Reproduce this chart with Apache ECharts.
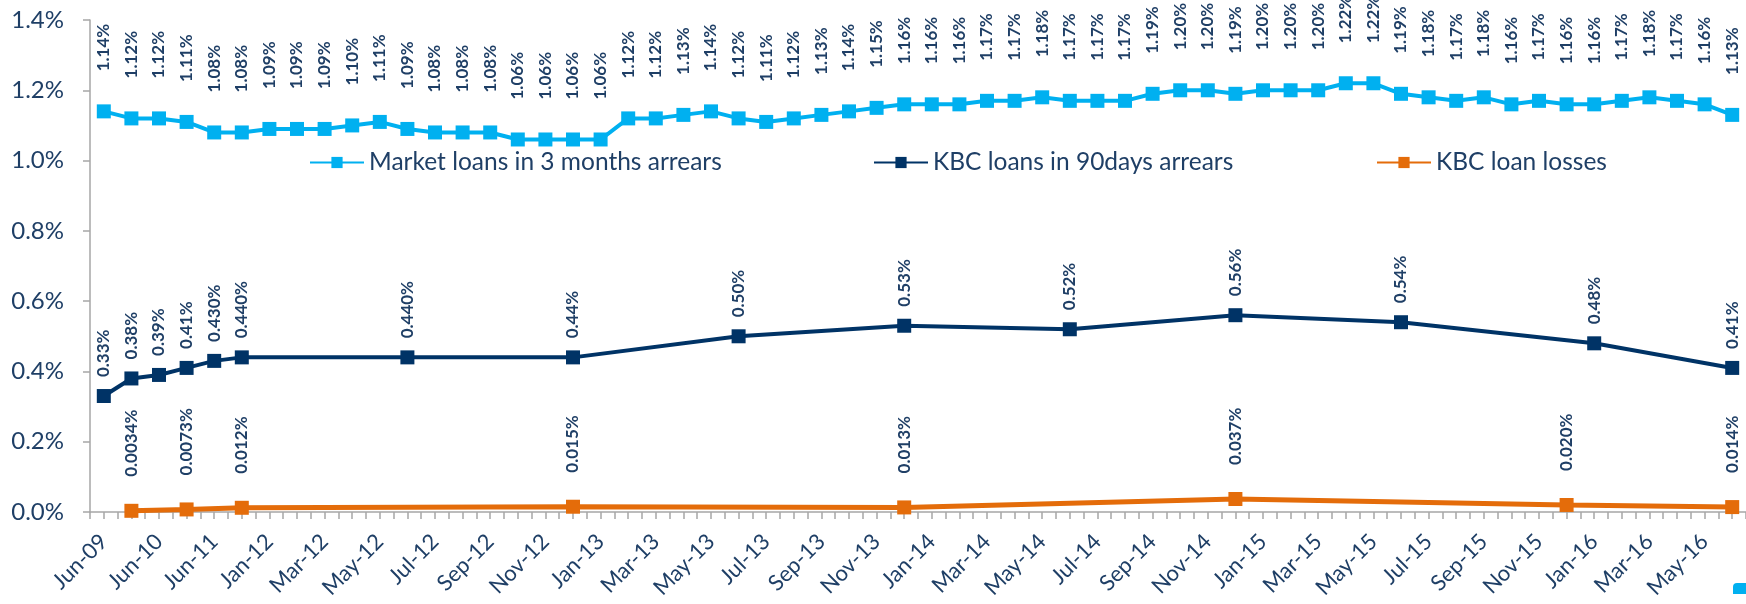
<!DOCTYPE html>
<html>
<head>
<meta charset="utf-8">
<script src="https://cdn.jsdelivr.net/npm/echarts@6/dist/echarts.min.js"></script>
<style>
html,body{margin:0;padding:0;background:#fff;}
#c{width:1746px;height:604px;}
</style>
</head>
<body>
<div id="c"></div>
<script>
// Categories (first six are half-yearly, then monthly)
var categories = [
  'Jun-09','Dec-09','Jun-10','Dec-10','Jun-11','Dec-11',
  'Jan-12','Feb-12','Mar-12','Apr-12','May-12','Jun-12','Jul-12','Aug-12','Sep-12','Oct-12','Nov-12','Dec-12',
  'Jan-13','Feb-13','Mar-13','Apr-13','May-13','Jun-13','Jul-13','Aug-13','Sep-13','Oct-13','Nov-13','Dec-13',
  'Jan-14','Feb-14','Mar-14','Apr-14','May-14','Jun-14','Jul-14','Aug-14','Sep-14','Oct-14','Nov-14','Dec-14',
  'Jan-15','Feb-15','Mar-15','Apr-15','May-15','Jun-15','Jul-15','Aug-15','Sep-15','Oct-15','Nov-15','Dec-15',
  'Jan-16','Feb-16','Mar-16','Apr-16','May-16','Jun-16'
];

var marketName = 'Market loans in 3 months arrears';
var marketValues = [
  1.14,1.12,1.12,1.11,1.08,1.08,
  1.09,1.09,1.09,1.10,1.11,1.09,1.08,1.08,1.08,1.06,1.06,1.06,
  1.06,1.12,1.12,1.13,1.14,1.12,1.11,1.12,1.13,1.14,1.15,1.16,
  1.16,1.16,1.17,1.17,1.18,1.17,1.17,1.17,1.19,1.20,1.20,1.19,
  1.20,1.20,1.20,1.22,1.22,1.19,1.18,1.17,1.18,1.16,1.17,1.16,
  1.16,1.17,1.18,1.17,1.16,1.13
];

var kbcName = 'KBC loans in 90days arrears';
var kbcPeriods = ['Jun-09','Dec-09','Jun-10','Dec-10','Jun-11','Dec-11','Jun-12','Dec-12','Jun-13','Dec-13','Jun-14','Dec-14','Jun-15','Jan-16','Jun-16'];
var kbcValues  = [0.33,0.38,0.39,0.41,0.430,0.440,0.440,0.44,0.50,0.53,0.52,0.56,0.54,0.48,0.41];
var kbcDigits  = [2,2,2,2,3,3,3,2,2,2,2,2,2,2,2];

var lossName = 'KBC loan losses';
var lossPeriods = ['Dec-09','Dec-10','Dec-11','Dec-12','Dec-13','Dec-14','Dec-15','Jun-16'];
var lossValues  = [0.0034,0.0073,0.012,0.015,0.013,0.037,0.020,0.014];
var lossDigits  = [4,4,3,3,3,3,3,3];

var yTicks = {min:0, max:1.4, interval:0.2};

var TXT = '#1F3F66';
var C_MARKET = '#00B0F0', C_KBC = '#003366', C_LOSS = '#E46C0A';
var FONT = 'Lato';

function pairs(periods, values){ return periods.map(function(p,i){ return [p, values[i]]; }); }

var chart = echarts.init(document.getElementById('c'), null, {renderer:'canvas'});

function dataLabel(dist, fmt){
  return {
    show:true, position:'top', distance:dist, rotate:90,
    align:'left', verticalAlign:'middle',
    color:TXT, fontFamily:FONT, fontWeight:'bold', fontSize:17,
    formatter: fmt
  };
}

function legendAt(name, left){
  return {
    data:[name], left:left, top:145, orient:'horizontal',
    itemWidth:54, itemHeight:14, itemGap:6,
    textStyle:{color:TXT, fontFamily:FONT, fontSize:24.5}
  };
}

chart.setOption({
  animation:false,
  backgroundColor:'#ffffff',
  textStyle:{fontFamily:FONT},
  grid:{left:90, top:20, bottom:92, right:-7, containLabel:false},
  legend:[ legendAt(marketName, 304), legendAt(kbcName, 868), legendAt(lossName, 1371) ],
  xAxis:[{
    type:'category', data:categories, boundaryGap:true,
    axisLine:{show:true, lineStyle:{color:'#A6A6A6', width:1.5}},
    axisTick:{show:true, interval:0, length:7, lineStyle:{color:'#A6A6A6', width:1.5}},
    axisLabel:{show:true, interval:1, rotate:45, margin:26, color:TXT, fontFamily:FONT, fontSize:22}
  },{
    type:'category', data:categories, boundaryGap:true, position:'bottom',
    axisLine:{show:false},
    axisTick:{show:true, alignWithLabel:true, interval:0, length:7, lineStyle:{color:'#A6A6A6', width:1.5}},
    axisLabel:{show:false}
  }],
  yAxis:{
    type:'value', min:yTicks.min, max:yTicks.max, interval:yTicks.interval,
    splitLine:{show:false},
    axisLine:{show:true, lineStyle:{color:'#A6A6A6', width:1.5}},
    axisTick:{show:true, length:7, lineStyle:{color:'#A6A6A6', width:1.5}},
    axisLabel:{margin:26, color:TXT, fontFamily:FONT, fontSize:24,
      formatter:function(v){ return v.toFixed(1)+'%'; }}
  },
  series:[{
    name:marketName, type:'line', data:marketValues,
    symbol:'rect', symbolSize:14, showAllSymbol:true,
    lineStyle:{color:C_MARKET, width:4}, itemStyle:{color:C_MARKET},
    label:dataLabel(33, function(p){ return p.value.toFixed(2)+'%'; })
  },{
    name:kbcName, type:'line', data:pairs(kbcPeriods,kbcValues), connectNulls:true,
    symbol:'rect', symbolSize:14, showAllSymbol:true,
    lineStyle:{color:C_KBC, width:4}, itemStyle:{color:C_KBC},
    label:dataLabel(12, function(p){ return p.value[1].toFixed(kbcDigits[p.dataIndex])+'%'; })
  },{
    name:lossName, type:'line', data:pairs(lossPeriods,lossValues), connectNulls:true,
    symbol:'rect', symbolSize:14, showAllSymbol:true,
    lineStyle:{color:C_LOSS, width:5}, itemStyle:{color:C_LOSS},
    label:dataLabel(27, function(p){ return p.value[1].toFixed(lossDigits[p.dataIndex])+'%'; })
  }],
  graphic:[{type:'rect', left:1733, top:583, shape:{width:14, height:11, r:[4,0,0,0]}, style:{fill:C_MARKET}}]
});
</script>
</body>
</html>
